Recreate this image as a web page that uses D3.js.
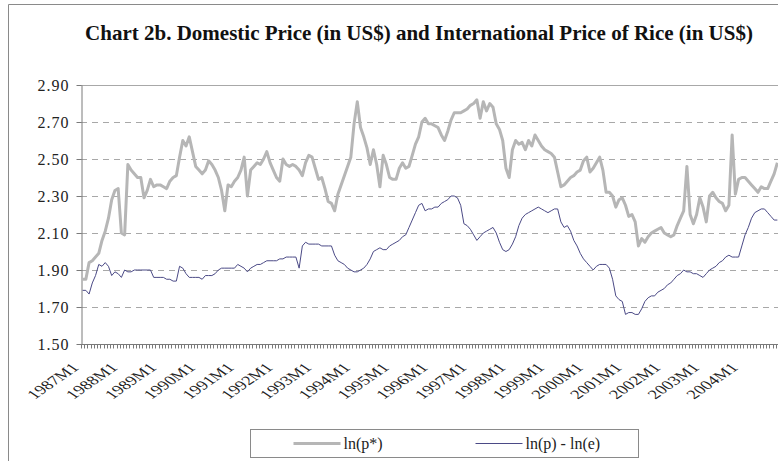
<!DOCTYPE html>
<html>
<head>
<meta charset="utf-8">
<script src="https://cdn.jsdelivr.net/npm/d3@7"></script>
<style>
  body { margin: 0; background: #fff; }
  svg { display: block; }
</style>
</head>
<body>
<svg id="chart" width="778" height="461"></svg>
<script>
// ── Data ──────────────────────────────────────────────────────
const years = d3.range(1987, 2005);
const months = years.flatMap(y => d3.range(1, 13).map(m => `${y}M${m}`));
const yTicks = [1.5, 1.7, 1.9, 2.1, 2.3, 2.5, 2.7, 2.9];

// ln(p*) — international price
const lnPstar = [
  1.85, 1.85, 1.94, 1.95, 1.97, 1.99, 2.06, 2.11, 2.18, 2.28, 2.33, 2.34,
  2.10, 2.09, 2.47, 2.44, 2.42, 2.40, 2.40, 2.29, 2.33, 2.39, 2.35, 2.36,
  2.36, 2.35, 2.34, 2.38, 2.40, 2.41, 2.51, 2.60, 2.57, 2.62, 2.54, 2.46,
  2.44, 2.42, 2.44, 2.49, 2.47, 2.44, 2.40, 2.33, 2.22, 2.36, 2.35, 2.38,
  2.40, 2.44, 2.51, 2.30, 2.44, 2.46, 2.48, 2.47, 2.50, 2.54, 2.48, 2.44,
  2.40, 2.38, 2.50, 2.47, 2.46, 2.47, 2.46, 2.44, 2.41, 2.48, 2.52, 2.51,
  2.45, 2.39, 2.40, 2.34, 2.27, 2.26, 2.22, 2.31, 2.36, 2.41, 2.46, 2.51,
  2.69, 2.81, 2.67, 2.62, 2.56, 2.47, 2.55, 2.47, 2.35, 2.52, 2.47, 2.40,
  2.39, 2.39, 2.45, 2.48, 2.45, 2.46, 2.52, 2.58, 2.62, 2.70, 2.72, 2.69,
  2.69, 2.68, 2.67, 2.63, 2.60, 2.65, 2.71, 2.75, 2.75, 2.75, 2.76, 2.77,
  2.79, 2.80, 2.82, 2.72, 2.81, 2.76, 2.80, 2.78, 2.69, 2.66, 2.60, 2.45,
  2.40, 2.55, 2.60, 2.58, 2.59, 2.55, 2.60, 2.57, 2.63, 2.60, 2.57, 2.55,
  2.54, 2.53, 2.51, 2.43, 2.35, 2.36, 2.38, 2.40, 2.41, 2.43, 2.44, 2.49,
  2.51, 2.43, 2.45, 2.48, 2.51, 2.44, 2.32, 2.32, 2.30, 2.24, 2.28, 2.29,
  2.25, 2.19, 2.20, 2.16, 2.03, 2.07, 2.05, 2.08, 2.10, 2.11, 2.12, 2.13,
  2.10, 2.09, 2.08, 2.09, 2.14, 2.18, 2.22, 2.46, 2.20, 2.15, 2.20, 2.29,
  2.24, 2.16, 2.30, 2.32, 2.29, 2.27, 2.26, 2.22, 2.25, 2.63, 2.31, 2.39,
  2.40, 2.40, 2.38, 2.36, 2.34, 2.32, 2.35, 2.34, 2.34, 2.38, 2.42, 2.48
];

// ln(p) - ln(e) — domestic price in US$
const lnPminusLnE = [
  1.79, 1.79, 1.77, 1.83, 1.87, 1.93, 1.92, 1.94, 1.92, 1.87, 1.89, 1.88,
  1.86, 1.90, 1.89, 1.89, 1.90, 1.90, 1.90, 1.90, 1.90, 1.90, 1.86, 1.86,
  1.86, 1.86, 1.85, 1.85, 1.84, 1.84, 1.92, 1.91, 1.88, 1.86, 1.86, 1.86,
  1.86, 1.85, 1.87, 1.87, 1.87, 1.88, 1.90, 1.91, 1.91, 1.91, 1.91, 1.91,
  1.93, 1.92, 1.91, 1.89, 1.91, 1.92, 1.93, 1.93, 1.94, 1.95, 1.95, 1.95,
  1.95, 1.96, 1.96, 1.97, 1.97, 1.97, 1.97, 1.91, 2.03, 2.05, 2.04, 2.04,
  2.04, 2.04, 2.03, 2.03, 2.03, 2.03, 1.98, 1.95, 1.94, 1.93, 1.91, 1.90,
  1.89, 1.89, 1.90, 1.91, 1.93, 1.96, 2.00, 2.01, 2.02, 2.01, 2.01, 2.03,
  2.04, 2.05, 2.06, 2.08, 2.09, 2.13, 2.17, 2.21, 2.25, 2.26, 2.22, 2.23,
  2.23, 2.24, 2.24, 2.26, 2.27, 2.28, 2.30, 2.30, 2.29, 2.25, 2.15, 2.14,
  2.12, 2.09, 2.06, 2.08, 2.10, 2.11, 2.12, 2.13, 2.10, 2.05, 2.01, 2.00,
  2.01, 2.04, 2.08, 2.14, 2.18, 2.20, 2.21, 2.22, 2.23, 2.24, 2.23, 2.22,
  2.21, 2.22, 2.23, 2.23, 2.16, 2.13, 2.14, 2.11, 2.06, 2.03, 1.99, 1.96,
  1.94, 1.92, 1.90, 1.92, 1.93, 1.93, 1.93, 1.91, 1.85, 1.76, 1.74, 1.73,
  1.66, 1.67, 1.67, 1.66, 1.66, 1.69, 1.73, 1.75, 1.76, 1.76, 1.78, 1.79,
  1.80, 1.82, 1.83, 1.85, 1.87, 1.88, 1.90, 1.89, 1.89, 1.88, 1.88, 1.87,
  1.86, 1.88, 1.90, 1.91, 1.92, 1.94, 1.95, 1.97, 1.98, 1.97, 1.97, 1.97,
  2.03, 2.09, 2.13, 2.18, 2.21, 2.22, 2.23, 2.23, 2.21, 2.19, 2.17, 2.17
];

const seriesNames = ['ln(p*)', 'ln(p) - ln(e)'];

// ── Layout ────────────────────────────────────────────────────
const COLORS = { pstar: '#b6b6b6', dom: '#4b4a86', grid: '#a8a8a8', axis: '#7a7a7a', border: '#8a8a8a' };
const FONT = "'Liberation Serif', 'Times New Roman', serif";
const plot = { left: 81, right: 779, top: 85, bottom: 344 };

const svg = d3.select('#chart');

const x = d3.scaleBand().domain(months).range([plot.left, plot.right]);
const y = d3.scaleLinear().domain([1.5, 2.9]).range([plot.bottom, plot.top]);

// outer chart border (left/top only visible)
svg.append('path')
  .attr('d', `M8.5,461 V4.5 H778`)
  .attr('fill', 'none')
  .attr('stroke', COLORS.border)
  .attr('stroke-width', 1);

// title
svg.append('text')
  .attr('x', 419)
  .attr('y', 40)
  .attr('text-anchor', 'middle')
  .attr('font-family', FONT)
  .attr('font-size', '21px')
  .attr('font-weight', 'bold')
  .attr('fill', '#111')
  .text('Chart 2b. Domestic Price (in US$) and International Price of Rice (in US$)');

// ── Grid ──────────────────────────────────────────────────────
svg.append('g')
  .selectAll('line')
  .data(yTicks.filter(v => v > 1.5 && v < 2.9))
  .join('line')
  .attr('x1', plot.left).attr('x2', plot.right)
  .attr('y1', d => Math.round(y(d)) + 0.5).attr('y2', d => Math.round(y(d)) + 0.5)
  .attr('stroke', COLORS.grid)
  .attr('stroke-dasharray', '6,5');

// plot top border
svg.append('line')
  .attr('x1', plot.left).attr('x2', plot.right)
  .attr('y1', plot.top + 0.5).attr('y2', plot.top + 0.5)
  .attr('stroke', COLORS.grid);

// ── Y axis ────────────────────────────────────────────────────
const yAxis = svg.append('g')
  .attr('transform', `translate(${plot.left + 0.5},0)`)
  .call(d3.axisLeft(y).tickValues(yTicks).tickFormat(d3.format('.2f')).tickSize(5).tickSizeOuter(0));
yAxis.select('.domain').attr('stroke', COLORS.axis);
yAxis.selectAll('.tick line').attr('stroke', COLORS.axis);
yAxis.selectAll('.tick text')
  .attr('x', -12)
  .attr('font-family', FONT)
  .attr('font-size', '16px')
  .attr('letter-spacing', '1px')
  .attr('fill', '#222');

// ── X axis ────────────────────────────────────────────────────
const xAxisG = svg.append('g').attr('transform', `translate(0,${plot.bottom + 0.5})`);
xAxisG.append('line')
  .attr('x1', plot.left).attr('x2', plot.right)
  .attr('stroke', COLORS.axis);
xAxisG.selectAll('.mtick')
  .data(months)
  .join('line')
  .attr('class', 'mtick')
  .attr('x1', d => Math.round(x(d)) + 0.5).attr('x2', d => Math.round(x(d)) + 0.5)
  .attr('y1', 0).attr('y2', 4)
  .attr('stroke', COLORS.axis);

// year labels: slanted, a little stretched sideways like the original
const yearLabels = months.filter(m => m.endsWith('M1'));
xAxisG.selectAll('.xlab')
  .data(yearLabels)
  .join('text')
  .attr('class', 'xlab')
  .attr('transform', d => `translate(${x(d) - 1},${24}) scale(1.45,1) rotate(-45)`)
  .attr('text-anchor', 'end')
  .attr('font-family', FONT)
  .attr('font-size', '13px')
  .attr('fill', '#222')
  .text(d => d);

// ── Lines ─────────────────────────────────────────────────────
const lineGen = d3.line()
  .x((d, i) => x(months[i]) + x.bandwidth() / 2)
  .y(d => y(d));

svg.append('path')
  .datum(lnPstar)
  .attr('d', lineGen)
  .attr('fill', 'none')
  .attr('stroke', COLORS.pstar)
  .attr('stroke-width', 3)
  .attr('stroke-linejoin', 'round');

svg.append('path')
  .datum(lnPminusLnE)
  .attr('d', lineGen)
  .attr('fill', 'none')
  .attr('stroke', COLORS.dom)
  .attr('stroke-width', 1);

// ── Legend ────────────────────────────────────────────────────
const legend = svg.append('g').attr('transform', 'translate(250.5,429.5)');
legend.append('rect')
  .attr('width', 388).attr('height', 28)
  .attr('fill', '#fff')
  .attr('stroke', COLORS.border);

const legendItems = [
  { name: seriesNames[0], color: COLORS.pstar, width: 3, x0: 43 },
  { name: seriesNames[1], color: COLORS.dom, width: 1, x0: 225 }
];
const li = legend.selectAll('.item').data(legendItems).join('g')
  .attr('class', 'item')
  .attr('transform', d => `translate(${d.x0},14)`);
li.append('line')
  .attr('x1', 0).attr('x2', 47)
  .attr('stroke', d => d.color)
  .attr('stroke-width', d => d.width);
li.append('text')
  .attr('x', 50).attr('y', 5)
  .attr('font-family', FONT)
  .attr('font-size', '16px')
  .attr('fill', '#222')
  .text(d => d.name);
</script>
</body>
</html>
